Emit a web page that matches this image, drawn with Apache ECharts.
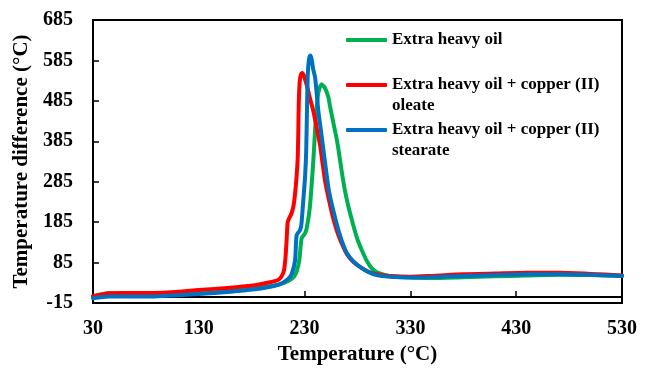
<!DOCTYPE html>
<html>
<head>
<meta charset="utf-8">
<script src="https://cdn.jsdelivr.net/npm/echarts@6/dist/echarts.min.js"></script>
<style>
  html, body { margin: 0; padding: 0; background: #fff; }
  #chart { width: 646px; height: 373px; }
</style>
</head>
<body>
<div id="chart"></div>
<script>
var seriesNames = ['Extra heavy oil', 'Extra heavy oil + copper (II) oleate', 'Extra heavy oil + copper (II) stearate'];
var xTicks = [30, 130, 230, 330, 430, 530];
var yTicks = [-15, 85, 185, 285, 385, 485, 585, 685];

// Extra heavy oil
var oilT  = [30, 45, 60, 80, 100, 130, 160, 183, 205, 215, 220, 222.5, 225, 227.2, 230.4, 232, 235, 238.3, 240, 241.5, 243, 246, 249, 252.4, 254, 257, 260, 262, 265, 268, 271, 274, 277, 280, 284, 288, 292, 296, 301, 310, 330, 350, 380, 410, 440, 470, 500, 530];
var oilDT = [1, 9, 10, 10, 9, 9, 15, 21, 30, 40, 50, 63, 91, 145, 157, 170, 223, 339, 417, 470, 505, 526, 518, 495, 472, 433, 395, 365, 312, 265, 228, 197, 168, 142, 116, 93, 76, 65, 58, 52, 48, 47, 49, 51, 53, 55, 54, 52];

// + copper (II) oleate
var oleT  = [30, 45, 60, 80, 100, 130, 160, 183, 195, 205, 208, 210.5, 212, 213, 214, 215.5, 217.7, 219.5, 221, 222.5, 223.5, 224, 224.5, 225.3, 226.5, 227.8, 229.5, 232, 235, 238.4, 241.5, 244.6, 247, 249.5, 253, 257, 261, 265, 270, 276, 283, 290, 298, 310, 330, 350, 380, 410, 440, 470, 500, 530];
var oleDT = [2, 9, 10, 10, 11, 17, 23, 29, 35, 42, 50, 65, 100, 140, 185, 195, 207, 225, 256, 300, 345, 400, 480, 530, 550, 554, 546, 524, 492, 458, 417, 376, 330, 285, 240, 195, 160, 133, 106, 87, 73, 63, 56, 52, 50, 52, 56, 58, 60, 60, 57, 53];

// + copper (II) stearate
var steT  = [30, 45, 60, 82, 100, 129, 160, 183, 195, 205, 210, 215, 218, 221, 222.5, 225.6, 227, 228.8, 230.5, 231.5, 232.3, 233, 234, 235.2, 236.5, 238, 240, 243, 246, 249, 253, 257, 261, 265, 270, 276, 283, 290, 298, 310, 330, 350, 380, 410, 440, 470, 500, 530];
var steDT = [-3, 1, 1, 1, 3, 7, 13, 19, 24, 30, 36, 46, 58, 91, 153, 165, 180, 240, 300, 360, 470, 550, 585, 597, 590, 565, 541, 460, 400, 339, 262, 215, 174, 140, 108, 88, 73, 62, 54, 50, 48, 49, 52, 54, 56, 56, 55, 52];

var colors = ['#00B050', '#FF0000', '#0070C0'];

function pairs(xs, ys) {
    var out = [];
    for (var i = 0; i < xs.length; i++) {
        out.push([xs[i], ys[i]]);
    }
    return out;
}

var font = 'Liberation Serif, Times New Roman, serif';

// two-line names get an empty first line so the swatch sits on the first text line
function makeLegend(name, top) {
    return {
        data : [ name ],
        left : 346,
        top : top,
        padding : 0,
        icon : 'roundRect',
        itemWidth : 41,
        itemHeight : 4,
        selectedMode : false,
        formatter : function(n) {
            if (n.indexOf('copper (II) ') < 0) return n;
            return '\n' + n.replace('copper (II) ', 'copper (II)\n');
        },
        textStyle : {
            fontFamily : font,
            fontWeight : 'bold',
            fontSize : 17,
            lineHeight : 21,
            color : '#000'
        }
    };
}

var myChart = echarts.init(document.getElementById('chart'));
var option = {
    animation : false,
    backgroundColor : '#fff',
    color : colors,
    grid : {
        left : 93,
        right : 24,
        top : 20,
        bottom : 70,
        show : true,
        borderColor : '#000',
        borderWidth : 2
    },
    legend : [
        makeLegend(seriesNames[0], 29.5),
        makeLegend(seriesNames[1], 53.5),
        makeLegend(seriesNames[2], 98.5)
    ],
    xAxis : {
        type : 'value',
        min : xTicks[0],
        max : xTicks[xTicks.length - 1],
        interval : xTicks[1] - xTicks[0],
        name : 'Temperature (°C)',
        nameLocation : 'middle',
        nameGap : 41,
        nameTextStyle : { fontFamily : font, fontWeight : 'bold', fontSize : 21, color : '#000' },
        axisLine : { lineStyle : { color : '#000', width : 2 } },
        axisTick : { inside : true, length : 6, lineStyle : { color : '#000', width : 1.5 } },
        axisLabel : { margin : 16, fontFamily : font, fontWeight : 'bold', fontSize : 20, color : '#000' },
        splitLine : { show : false }
    },
    yAxis : {
        type : 'value',
        min : yTicks[0],
        max : yTicks[yTicks.length - 1],
        interval : yTicks[1] - yTicks[0],
        name : 'Temperature difference (°C)',
        nameLocation : 'middle',
        nameGap : 58,
        nameTextStyle : { fontFamily : font, fontWeight : 'bold', fontSize : 21, color : '#000' },
        axisLine : { lineStyle : { color : '#000', width : 2 } },
        axisTick : { inside : true, length : 6, lineStyle : { color : '#000', width : 1.5 } },
        axisLabel : { margin : 20, fontFamily : font, fontWeight : 'bold', fontSize : 20, color : '#000' },
        splitLine : { show : false }
    },
    series : [ {
        name : seriesNames[0],
        type : 'line',
        data : pairs(oilT, oilDT),
        showSymbol : false,
        smooth : 0.25,
        lineStyle : { width : 4, cap : 'round', join : 'round' }
    }, {
        name : seriesNames[1],
        type : 'line',
        data : pairs(oleT, oleDT),
        showSymbol : false,
        smooth : 0.25,
        lineStyle : { width : 4, cap : 'round', join : 'round' }
    }, {
        name : seriesNames[2],
        type : 'line',
        data : pairs(steT, steDT),
        showSymbol : false,
        smooth : 0.25,
        lineStyle : { width : 4, cap : 'round', join : 'round' }
    } ]
};
myChart.setOption(option);
</script>
</body>
</html>
